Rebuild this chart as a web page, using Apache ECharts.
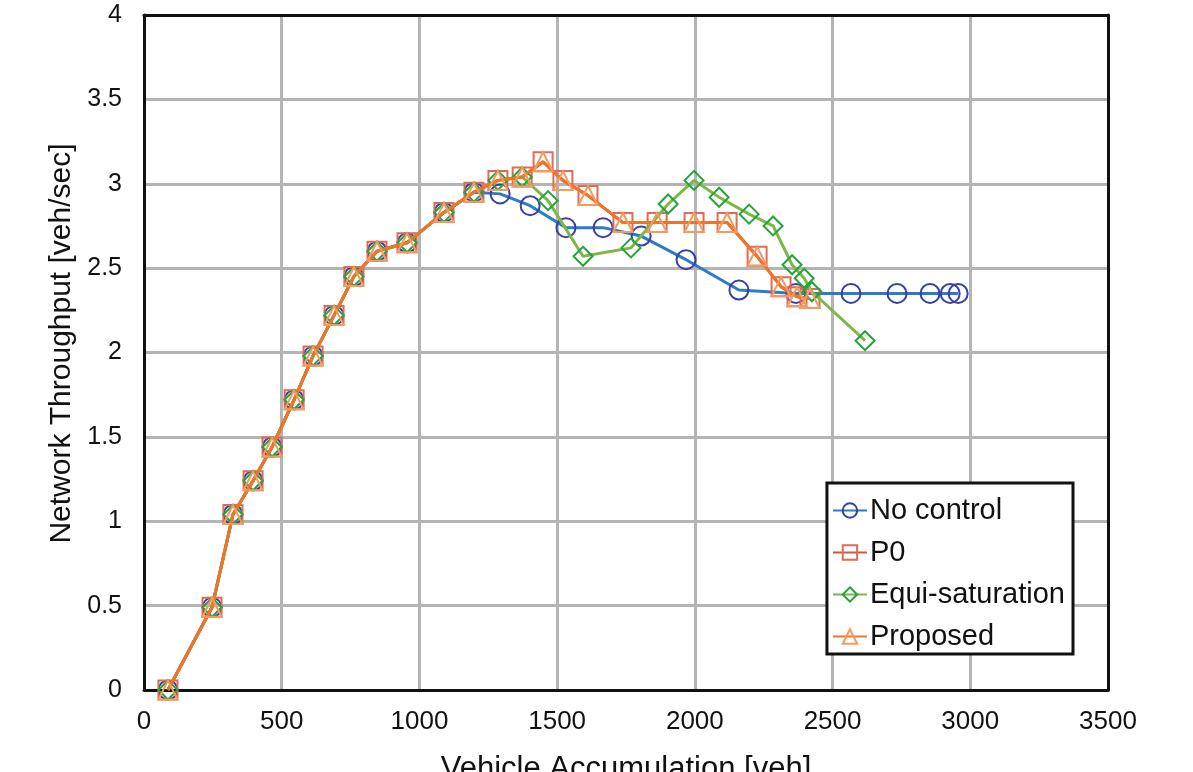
<!DOCTYPE html>
<html>
<head>
<meta charset="utf-8">
<script src="https://cdn.jsdelivr.net/npm/echarts@6/dist/echarts.min.js"></script>
<style>
  html, body { margin: 0; padding: 0; background: #fff; }
  #chart { width: 1193px; height: 772px; }
</style>
</head>
<body>
<div id="chart"></div>
<script>
// shared rising branch (all four strategies overlap here)
var commonX = [87, 247, 323, 396, 465, 545, 614, 690, 762, 846, 955, 1089, 1198];
var commonY = [0, 0.49, 1.04, 1.24, 1.44, 1.72, 1.98, 2.22, 2.45, 2.6, 2.65, 2.83, 2.95];

var noControlX = [1293, 1402, 1532, 1667, 1805, 1968, 2160, 2367, 2567, 2734, 2854, 2927, 2956];
var noControlY = [2.94, 2.87, 2.74, 2.74, 2.69, 2.55, 2.37, 2.35, 2.35, 2.35, 2.35, 2.35, 2.35];

var p0X = [1285, 1373, 1449, 1521, 1612, 1739, 1863, 1997, 2117, 2226, 2313, 2371, 2418];
var p0Y = [3.02, 3.04, 3.13, 3.02, 2.93, 2.77, 2.77, 2.77, 2.77, 2.57, 2.39, 2.33, 2.32];

var equiX = [1285, 1373, 1467, 1594, 1768, 1903, 1997, 2088, 2197, 2284, 2353, 2397, 2425, 2618];
var equiY = [3.02, 3.04, 2.9, 2.57, 2.62, 2.88, 3.02, 2.92, 2.82, 2.75, 2.52, 2.44, 2.36, 2.07];

var proposedX = [1285, 1373, 1449, 1521, 1612, 1739, 1863, 1997, 2117, 2226, 2313, 2371, 2418];
var proposedY = [3.02, 3.04, 3.13, 3.02, 2.93, 2.77, 2.77, 2.77, 2.77, 2.57, 2.39, 2.33, 2.32];

function pts(xs, ys) {
  var out = [];
  for (var i = 0; i < commonX.length; i++) out.push([commonX[i], commonY[i]]);
  for (var j = 0; j < xs.length; j++) out.push([xs[j], ys[j]]);
  return out;
}

var font = 'Liberation Sans, Arial, Helvetica, sans-serif';

function lineSeries(name, data, symbol, lineColor, markColor, z) {
  return {
    name: name,
    type: 'line',
    data: data,
    symbol: symbol,
    symbolSize: 19,
    z: z,
    lineStyle: { color: lineColor, width: 3 },
    itemStyle: { color: 'rgba(255,255,255,0)', borderColor: markColor, borderWidth: 2 },
    emphasis: { disabled: true },
    animation: false
  };
}

// frame lines for all four sides of the plot box
var frame = { show: true, onZero: false, lineStyle: { color: '#111', width: 3 } };

var myChart = echarts.init(document.getElementById('chart'));
var option = {
  backgroundColor: '#fff',
  textStyle: { fontFamily: font },
  grid: { left: 144, top: 15, right: 85, bottom: 82, outerBoundsMode: 'none', containLabel: false },
  legend: {
    orient: 'vertical',
    right: 120, top: 483,
    z: 30,
    backgroundColor: '#fff',
    borderColor: '#111', borderWidth: 3, borderRadius: 0,
    padding: [13, 8, 3, 5],
    itemGap: 13,
    itemWidth: 34, itemHeight: 18,
    textStyle: { fontSize: 29, color: '#111', fontFamily: font, padding: [0, 0, 0, -2] },
    data: ['No control', 'P0', 'Equi-saturation', 'Proposed']
  },
  xAxis: [{
    type: 'value',
    min: 0, max: 3500, interval: 500,
    name: 'Vehicle Accumulation [veh]',
    nameLocation: 'middle', nameGap: 64,
    nameTextStyle: { fontSize: 31, color: '#111', fontFamily: font },
    axisLine: frame,
    axisTick: { show: false },
    axisLabel: { fontSize: 26, color: '#111', margin: 19, fontFamily: font,
      formatter: function (v) { return String(v); } },
    splitLine: { lineStyle: { color: '#b4b4b4', width: 3 } },
    z: 5
  }, {
    type: 'value', position: 'top',
    min: 0, max: 3500, interval: 500,
    axisLine: frame, axisTick: { show: false }, axisLabel: { show: false },
    splitLine: { show: false }, z: 5
  }],
  yAxis: [{
    type: 'value',
    min: 0, max: 4, interval: 0.5,
    name: 'Network Throughput [veh/sec]',
    nameLocation: 'middle', nameGap: 64,
    nameTextStyle: { fontSize: 30, color: '#111', fontFamily: font, padding: [0, 0, 0, 18] },
    axisLine: frame,
    axisTick: { show: false },
    axisLabel: { fontSize: 25, color: '#111', margin: 22, fontFamily: font },
    splitLine: { lineStyle: { color: '#b4b4b4', width: 3 } },
    z: 5
  }, {
    type: 'value', position: 'right',
    min: 0, max: 4, interval: 0.5,
    axisLine: frame, axisTick: { show: false }, axisLabel: { show: false },
    splitLine: { show: false }, z: 5
  }],
  series: [
    lineSeries('No control', pts(noControlX, noControlY), 'circle', '#2a7bc8', '#3b3fa6', 6),
    lineSeries('P0', pts(p0X, p0Y), 'rect', '#d9553a', '#e06a55', 7),
    lineSeries('Equi-saturation', pts(equiX, equiY), 'diamond', '#7cb844', '#23a43a', 8),
    lineSeries('Proposed', pts(proposedX, proposedY), 'triangle', '#f07428', '#f59a5e', 9)
  ]
};
myChart.setOption(option);
</script>
</body>
</html>
